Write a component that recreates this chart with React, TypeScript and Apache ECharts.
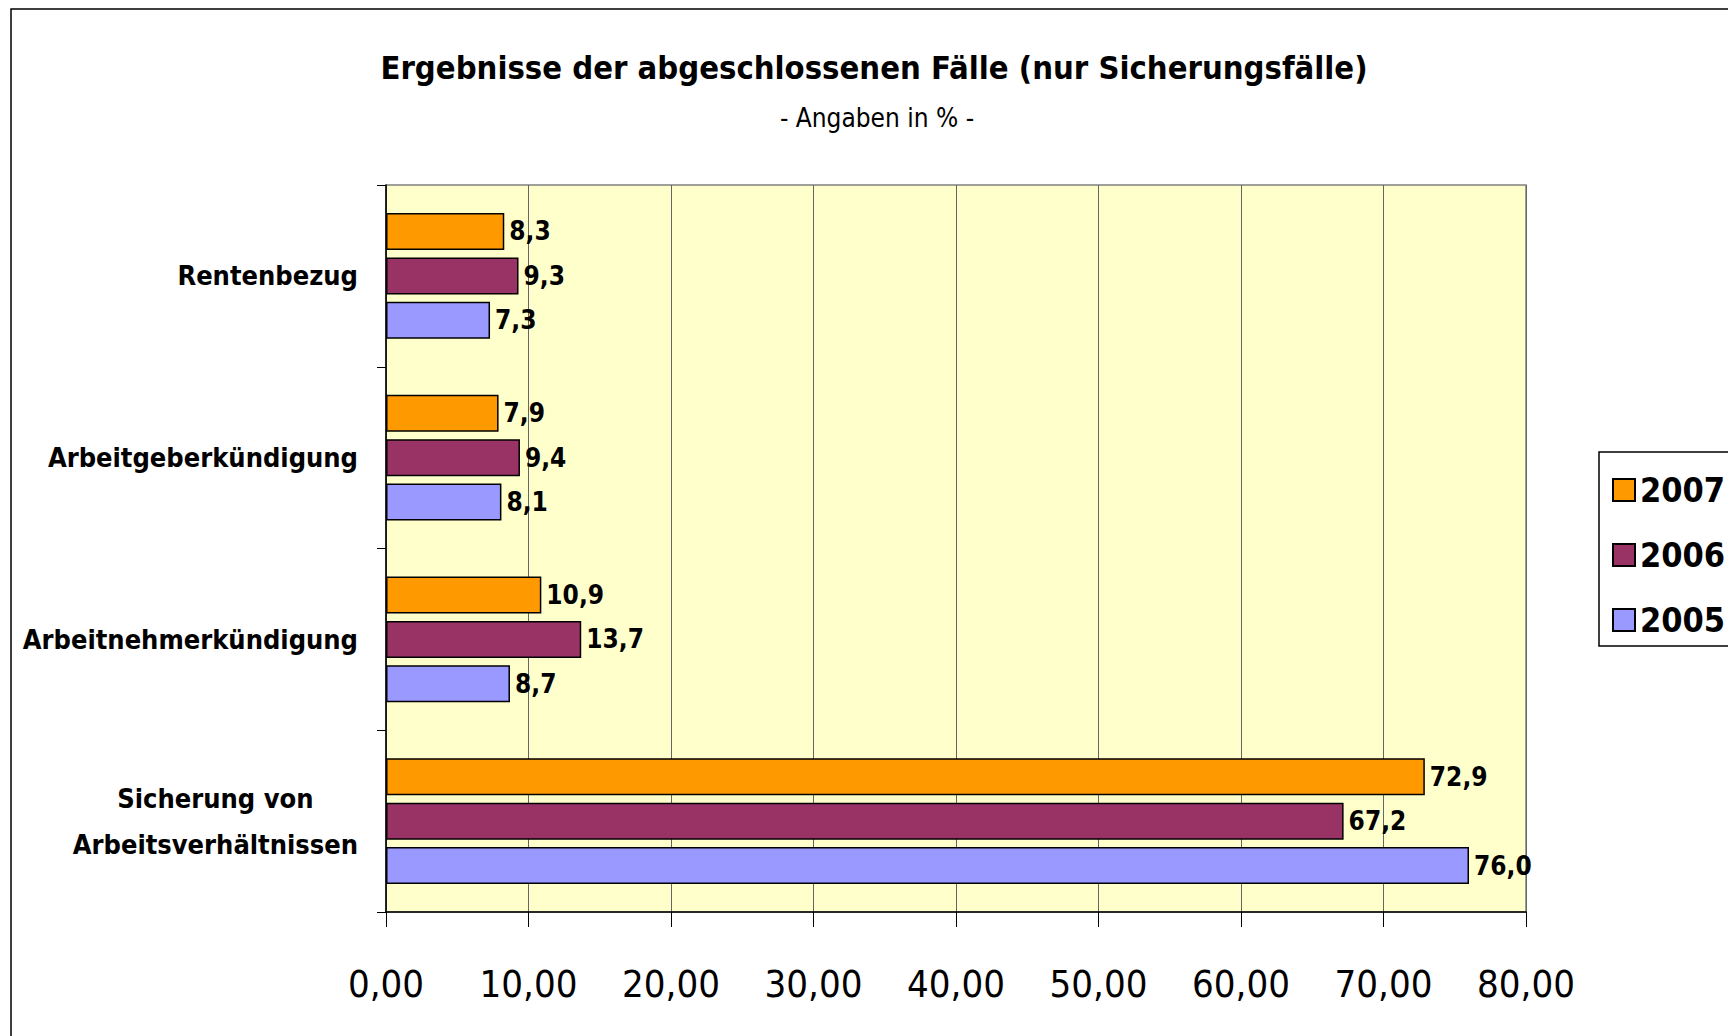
import React, { useEffect, useRef } from "react";
import * as echarts from "echarts";

const categories = [
  "Sicherung von\nArbeitsverhältnissen",
  "Arbeitnehmerkündigung",
  "Arbeitgeberkündigung",
  "Rentenbezug",
];
const values2005 = [76.0, 8.7, 8.1, 7.3];
const values2006 = [67.2, 13.7, 9.4, 9.3];
const values2007 = [72.9, 10.9, 7.9, 8.3];
const xTicks = [0, 10, 20, 30, 40, 50, 60, 70, 80];

const FONT = '"Liberation Sans Narrow", "Arial Narrow", "DejaVu Sans Condensed", sans-serif';

export default function App() {
  const ref = useRef<HTMLDivElement>(null);
  useEffect(() => {
    if (!ref.current) return;
    const chart = echarts.init(ref.current, null, { renderer: "svg" });
    const mkSeries = (name: string, data: number[], color: string) => ({
      name,
      type: "bar",
      data,
      barWidth: 37,
      barGap: "20%",
      itemStyle: { color, borderColor: "#000", borderWidth: 1.5 },
      label: {
        show: true,
        position: "right",
        distance: 5,
        formatter: (p: any) => p.value.toFixed(1).replace(".", ","),
        fontFamily: FONT,
        fontWeight: "bold",
        fontSize: 26,
        color: "#000",
      },
    });
    chart.setOption({
      animation: false,
      backgroundColor: "#fff",
      title: [
        {
          text: "Ergebnisse der abgeschlossenen Fälle (nur Sicherungsfälle)",
          left: 874,
          top: 51,
          textAlign: "center",
          padding: 0,
          textStyle: { fontFamily: FONT, fontWeight: "bold", fontSize: 32.5, color: "#000" },
        },
        {
          text: "- Angaben in % -",
          left: 877,
          top: 105,
          textAlign: "center",
          padding: 0,
          textStyle: { fontFamily: FONT, fontWeight: "normal", fontSize: 26, color: "#000" },
        },
      ],
      legend: {
        orient: "vertical",
        left: 1599,
        top: 452,
        data: ["2007", "2006", "2005"],
        icon: "rect",
        itemWidth: 22,
        itemHeight: 22,
        itemGap: 31,
        padding: [21, 30, 9, 13],
        borderColor: "#000",
        borderWidth: 1.5,
        backgroundColor: "#fff",
        textStyle: { fontFamily: FONT, fontWeight: "bold", fontSize: 34, color: "#000" },
      },
      grid: {
        left: 386,
        top: 185,
        width: 1140,
        height: 727,
        show: true,
        backgroundColor: "#FFFFCC",
        borderColor: "#808080",
        borderWidth: 1.5,
      },
      xAxis: {
        type: "value",
        min: xTicks[0],
        max: xTicks[xTicks.length - 1],
        interval: 10,
        axisLine: { show: true, lineStyle: { color: "#000", width: 1.5 } },
        axisTick: { show: true, length: 15, lineStyle: { color: "#000" } },
        splitLine: { show: true, lineStyle: { color: "#666", width: 1 } },
        axisLabel: {
          margin: 53,
          formatter: (v: number) => v.toFixed(2).replace(".", ","),
          fontFamily: FONT,
          fontSize: 38,
          color: "#000",
        },
      },
      yAxis: {
        type: "category",
        data: categories,
        axisLine: { show: true, lineStyle: { color: "#000", width: 1.5 } },
        axisTick: { show: true, length: 9, lineStyle: { color: "#000" } },
        axisLabel: {
          margin: 28,
          formatter: (v: string) => v.split("\n").map((s) => "{c|" + s + "}").join("\n"),
          rich: {
            c: {
              align: "center",
              fontFamily: FONT,
              fontWeight: "bold",
              fontSize: 27,
              lineHeight: 46,
              color: "#000",
            },
          },
        },
      },
      graphic: [
        {
          type: "rect",
          shape: { x: 11, y: 9, width: 1800, height: 1100 },
          style: { fill: "none", stroke: "#000", lineWidth: 1.5 },
          silent: true,
          z: -10,
        },
      ],
      series: [
        mkSeries("2007", values2007, "#FF9900"),
        mkSeries("2006", values2006, "#993366"),
        mkSeries("2005", values2005, "#9999FF"),
      ],
    });
    return () => chart.dispose();
  }, []);
  return (
    <div
      ref={ref}
      style={{ position: "absolute", left: 0, top: 0, width: 1728, height: 1036 }}
    />
  );
}
